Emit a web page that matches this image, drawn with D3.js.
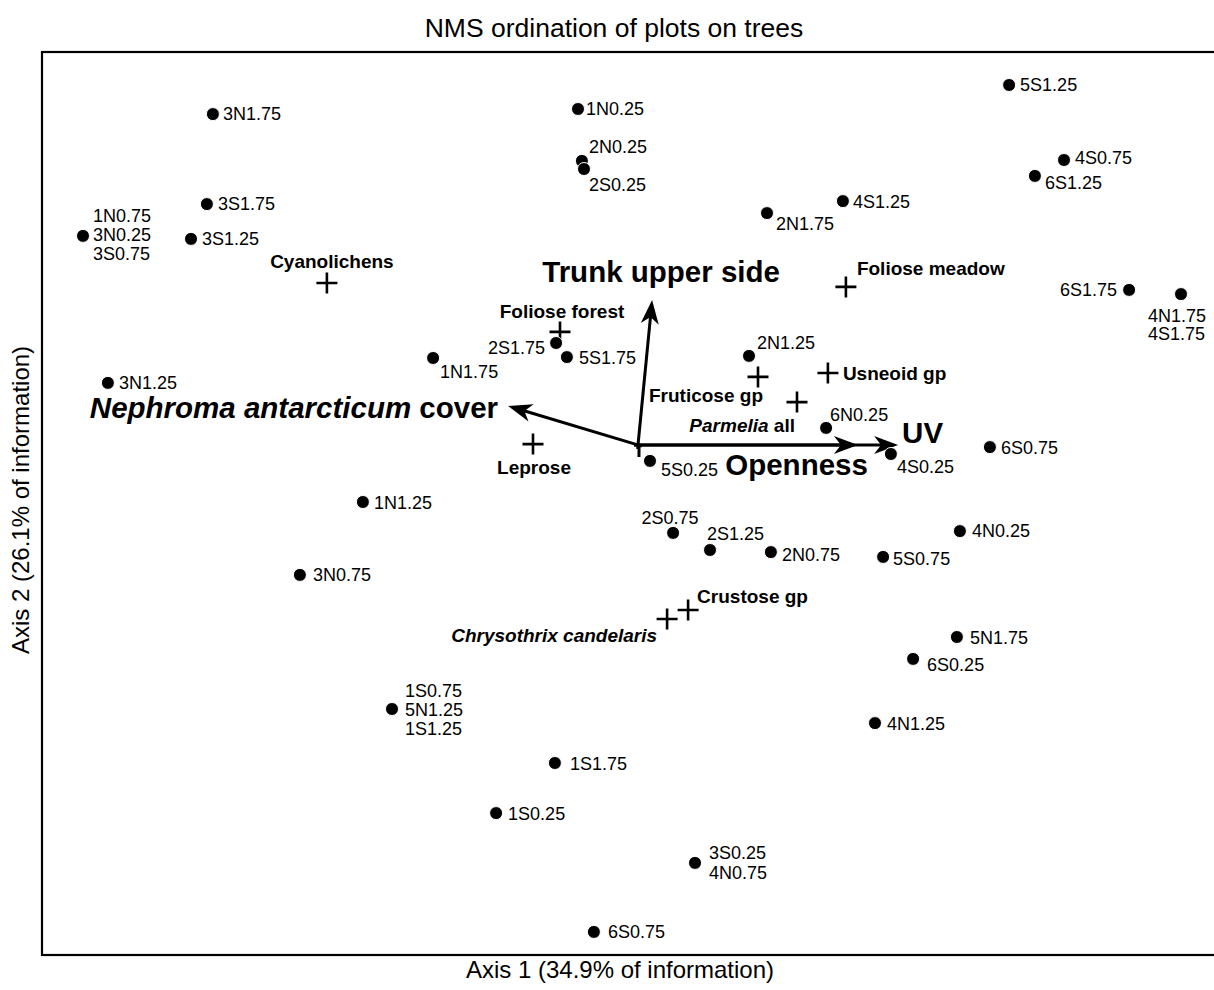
<!DOCTYPE html>
<html><head><meta charset="utf-8">
<script src="https://cdn.jsdelivr.net/npm/d3@7"></script>
<style>
body{margin:0;background:#fff}
svg{display:block}
text{font-family:"Liberation Sans",Arial,Helvetica,sans-serif;fill:#000}
</style>
</head><body>
<svg id="c" width="1214" height="990"></svg>
<script>
// ---- Data (NMS scores, arbitrary units) ----
const plotLabels = ["3N1.75","1N0.25","5S1.25","2N0.25","2S0.25","4S0.75","6S1.25","3S1.75","4S1.25","2N1.75",
  "1N0.75|3N0.25|3S0.75","3S1.25","6S1.75","4N1.75|4S1.75","2S1.75","5S1.75","2N1.25","1N1.75","3N1.25","6N0.25",
  "6S0.75","4S0.25","5S0.25","1N1.25","2S0.75","2S1.25","2N0.75","4N0.25","5S0.75","3N0.75",
  "5N1.75","6S0.25","1S0.75|5N1.25|1S1.25","4N1.25","1S1.75","1S0.25","3S0.25|4N0.75","6S0.75"];
const plotAxis1 = [-1.417,-0.2,1.237,-0.187,-0.18,1.42,1.323,-1.437,0.683,0.43,
  -1.85,-1.49,1.637,1.81,-0.273,-0.237,0.37,-0.683,-1.767,0.627,
  1.173,0.843,0.04,-0.917,0.117,0.24,0.443,1.073,0.817,-1.127,
  1.063,0.917,-0.82,0.79,-0.277,-0.473,0.19,-0.147];
const plotAxis2 = [1.103,1.12,1.2,0.947,0.92,0.95,0.897,0.803,0.813,0.773,
  0.697,0.687,0.517,0.503,0.34,0.293,0.297,0.29,0.207,0.057,
  -0.007,-0.03,-0.053,-0.19,-0.293,-0.35,-0.357,-0.287,-0.373,-0.433,
  -0.64,-0.713,-0.88,-0.927,-1.06,-1.227,-1.393,-1.623];

const speciesLabels = ["Cyanolichens","Foliose forest","Foliose meadow","Fruticose gp","Usneoid gp",
  "Parmelia all","Leprose","Crustose gp","Chrysothrix candelaris"];
const speciesAxis1 = [-1.037,-0.26,0.693,0.4,0.633,0.53,-0.35,0.167,0.097];
const speciesAxis2 = [0.54,0.377,0.527,0.227,0.24,0.143,0.003,-0.55,-0.58];

const vectorLabels = ["Trunk upper side","Nephroma antarcticum cover","Openness","UV"];
const vectorAxis1 = [0.047,-0.433,0.733,0.867];
const vectorAxis2 = [0.483,0.13,0,0];

const titleText = "NMS ordination of plots on trees";
const xAxisTitle = "Axis 1 (34.9% of information)";
const yAxisTitle = "Axis 2 (26.1% of information)";

// ---- Label layout (style only): [dx, dy(baseline), anchor, lineGap] ----
const plotLabelLayout = [
  [10,6,"start"],[8,6,"start"],[11,6,"start"],[7,-7.5,"start"],[5,22,"start"],[11,4,"start"],[10,13.5,"start"],[11,6,"start"],[10,6.5,"start"],[9,16.5,"start"],
  [10,-13.5,"start",19],[11,6,"start"],[-12,6,"end"],[-33,27.5,"start",18],[-11,10.5,"end"],[12,6.5,"start"],[8,-6.5,"start"],[7,19.5,"start"],[11,6,"start"],[4,-6.5,"start"],
  [11,6.5,"start"],[6,19,"start"],[11,15.5,"start"],[11,6.5,"start"],[-3,-8.5,"middle"],[-3,-10.5,"start"],[11,8.5,"start"],[12,6,"start"],[10,8.5,"start"],[13,6.5,"start"],
  [13,6.5,"start"],[14,12.5,"start"],[13,-12.5,"start",19],[12,6.5,"start"],[15,6.5,"start"],[12,6.5,"start"],[14,-3.5,"start",20],[14,6.5,"start"]
];
const speciesLabelLayout = [
  [5,-15.5,"middle"],[2,-13.5,"middle"],[11,-11.5,"start"],[5,25.5,"end"],[15,6.5,"start"],
  [-2,29.5,"end"],[1,29.5,"middle"],[9,-7.5,"start"],[-10,22.5,"end"]
];
const vectorLabelLayout = [[9,-18,"middle"],[-10,12,"end"],[10,30,"end"],[4,-2,"start"]];

// ---- Setup ----
const svg = d3.select("#c");
const x = d3.scaleLinear().domain([-2, 2]).range([38, 1238]);
const y = d3.scaleLinear().domain([-2, 2]).range([1045, -155]);

// frame
svg.append("rect").attr("x", 42).attr("y", 52).attr("width", 1190).attr("height", 903)
  .attr("fill", "none").attr("stroke", "#000").attr("stroke-width", 2.2);

// titles
svg.append("text").attr("x", 614).attr("y", 37).attr("text-anchor", "middle")
  .style("font-size", "26.5px").text(titleText);
svg.append("text").attr("x", 620).attr("y", 978).attr("text-anchor", "middle")
  .style("font-size", "24px").text(xAxisTitle);
svg.append("text").attr("transform", "translate(29,500) rotate(-90)").attr("text-anchor", "middle")
  .style("font-size", "24px").text(yAxisTitle);

// vectors
const ox = x(0), oy = y(0);
const gV = svg.append("g");
gV.append("line").attr("x1", ox + 1).attr("y1", oy).attr("x2", ox + 1).attr("y2", oy + 12)
  .attr("stroke", "#000").attr("stroke-width", 3);
function headPath(x0, y0, x1, y1) {
  const dx = x1 - x0, dy = y1 - y0, len = Math.hypot(dx, dy);
  const ux = dx / len, uy = dy / len, nx = -uy, ny = ux;
  const L = 24, Wd = 9, ind = 7;
  const p = [[x1, y1],
    [x1 - L * ux + Wd * nx, y1 - L * uy + Wd * ny],
    [x1 - (L - ind) * ux, y1 - (L - ind) * uy],
    [x1 - L * ux - Wd * nx, y1 - L * uy - Wd * ny]];
  return "M" + p.map(d => d.join(",")).join("L") + "Z";
}
vectorLabels.forEach((lab, i) => {
  const tx = x(vectorAxis1[i]), ty = y(vectorAxis2[i]);
  const dx = tx - ox, dy = ty - oy, len = Math.hypot(dx, dy);
  const ex = tx - dx / len * 14, ey = ty - dy / len * 14;
  const sx = ox - dx / len * 4, sy = oy - dy / len * 4;
  gV.append("line").attr("x1", sx).attr("y1", sy).attr("x2", ex).attr("y2", ey)
    .attr("stroke", "#000").attr("stroke-width", 3);
  gV.append("path").attr("d", headPath(ox, oy, tx, ty)).attr("fill", "#000");
  const lay = vectorLabelLayout[i];
  const t = gV.append("text").attr("x", tx + lay[0]).attr("y", ty + lay[1])
    .attr("text-anchor", lay[2]).style("font-size", "29.5px").style("font-weight", "bold");
  if (lab.startsWith("Nephroma antarcticum")) {
    t.append("tspan").style("font-style", "italic").text("Nephroma antarcticum");
    t.append("tspan").text(" cover");
  } else t.text(lab);
});

// species crosses
const gS = svg.append("g");
speciesLabels.forEach((lab, i) => {
  const cx = x(speciesAxis1[i]), cy = y(speciesAxis2[i]);
  gS.append("path").attr("d", `M${cx - 10.5},${cy}H${cx + 10.5}M${cx},${cy - 10.5}V${cy + 10.5}`)
    .attr("stroke", "#000").attr("stroke-width", 2.6).attr("fill", "none");
  const lay = speciesLabelLayout[i];
  const t = gS.append("text").attr("x", cx + lay[0]).attr("y", cy + lay[1])
    .attr("text-anchor", lay[2]).style("font-size", "19px").style("font-weight", "bold");
  if (lab === "Parmelia all") {
    t.append("tspan").style("font-style", "italic").text("Parmelia");
    t.append("tspan").text(" all");
  } else if (lab === "Chrysothrix candelaris") {
    t.style("font-style", "italic").text(lab);
  } else t.text(lab);
});

// plot points
const gP = svg.append("g");
gP.selectAll("circle").data(plotLabels).join("circle")
  .attr("cx", (d, i) => x(plotAxis1[i])).attr("cy", (d, i) => y(plotAxis2[i]))
  .attr("r", 6.5).attr("fill", "#000").attr("stroke", "#fff").attr("stroke-width", 1);
plotLabels.forEach((lab, i) => {
  const cx = x(plotAxis1[i]), cy = y(plotAxis2[i]);
  const lay = plotLabelLayout[i];
  const lines = lab.split("|");
  const gap = lay[3] || 19;
  lines.forEach((ln, k) => {
    gP.append("text").attr("x", cx + lay[0]).attr("y", cy + lay[1] + k * gap)
      .attr("text-anchor", lay[2]).style("font-size", "18px").text(ln);
  });
});
</script>
</body></html>
